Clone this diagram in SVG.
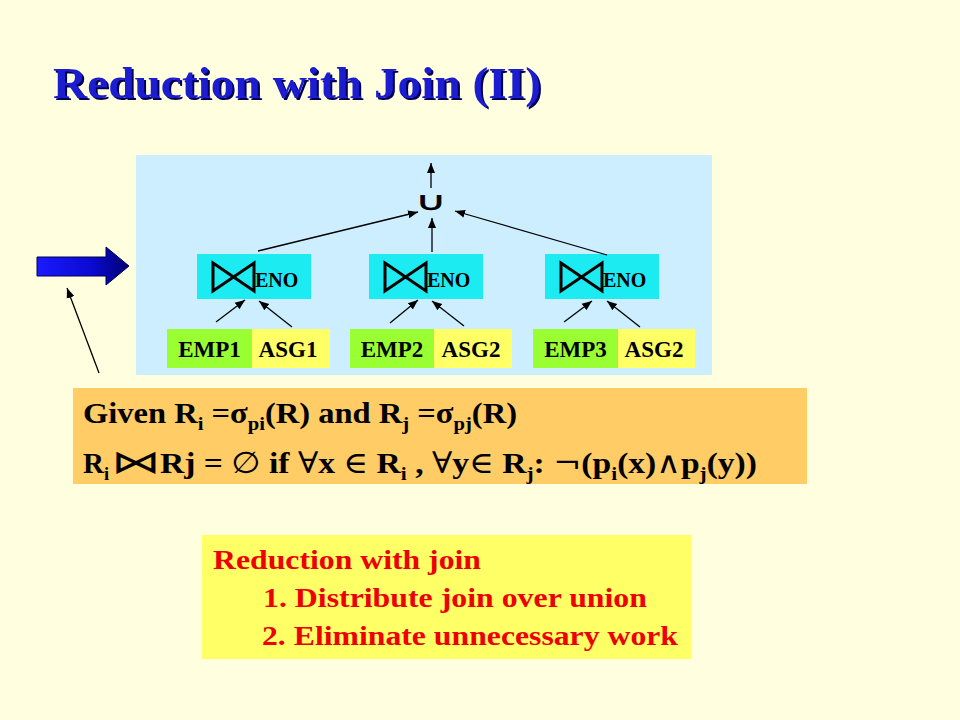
<svg xmlns="http://www.w3.org/2000/svg" width="960" height="720" viewBox="0 0 960 720">
<defs>
<marker id="ah" markerUnits="userSpaceOnUse" markerWidth="10" markerHeight="10" viewBox="0 0 10 10" refX="10" refY="5" orient="auto">
<path d="M0,1 L10,5 L0,9 Z" fill="#000"/>
</marker>
<linearGradient id="bg" x1="0" y1="0" x2="1" y2="0">
<stop offset="0" stop-color="#1a1aff"/>
<stop offset="0.6" stop-color="#0a0ad0"/>
<stop offset="1" stop-color="#000070"/>
</linearGradient>
<filter id="sh" x="-5%" y="-20%" width="110%" height="140%">
<feOffset in="SourceAlpha" dx="2" dy="2" result="o"/>
<feFlood flood-color="#000050"/>
<feComposite in2="o" operator="in" result="s"/>
<feMerge><feMergeNode in="s"/><feMergeNode in="SourceGraphic"/></feMerge>
</filter>
<style>
.ser{font-family:"Liberation Serif","Times New Roman",Times,serif;font-weight:bold}
.lbl{font-family:"Liberation Serif","Times New Roman",Times,serif;font-weight:bold;font-size:23px;fill:#000}
.eno{font-family:"Liberation Serif","Times New Roman",Times,serif;font-weight:bold;font-size:20px;fill:#000}
.bow{fill:none;stroke:#000;stroke-width:3;stroke-linejoin:miter}
.join{fill:#1cebf2}
.emp{fill:#99ff33}
.asg{fill:#ffff66}
.cn{stroke:#000;stroke-width:1.3;fill:none;marker-end:url(#ah)}
.sub{font-size:19px}
.sym{font-family:"DejaVu Serif","DejaVu Sans",serif;font-weight:normal}
.red{fill:#ee0000;font-family:"Liberation Serif","Times New Roman",Times,serif;font-weight:bold;font-size:28px}
</style>
</defs>
<rect width="960" height="720" fill="#ffffe0"/>

<g id="title">
<text x="53" y="98" class="ser" font-size="45" fill="#1a1ad0" filter="url(#sh)" textLength="488" lengthAdjust="spacingAndGlyphs">Reduction with Join (II)</text>
</g>

<g id="bigArrow">
<path d="M37,257 L106,257 L106,247 L129,266 L106,285 L106,276 L37,276 Z" fill="url(#bg)" stroke="#000050" stroke-width="1"/>
</g>

<rect id="panel" x="136" y="155" width="576" height="220" fill="#cceeff"/>

<g id="union">
<text transform="translate(431,210) scale(1.5,0.9)" x="0" y="0" text-anchor="middle" font-family="DejaVu Sans,sans-serif" font-size="28" fill="#000" stroke="#000" stroke-width="0.7">∪</text>
</g>

<g id="join1">
<rect class="join" x="197" y="254" width="114" height="45"/>
<path class="bow" d="M213,263 L254,291 L254,263 L213,291 Z"/>
<text class="eno" x="255" y="287">ENO</text>
</g>
<g id="join2">
<rect class="join" x="369" y="254" width="114" height="45"/>
<path class="bow" d="M385,263 L426,291 L426,263 L385,291 Z"/>
<text class="eno" x="427" y="287">ENO</text>
</g>
<g id="join3">
<rect class="join" x="545" y="254" width="114" height="45"/>
<path class="bow" d="M561,263 L602,291 L602,263 L561,291 Z"/>
<text class="eno" x="603" y="287">ENO</text>
</g>

<g id="emp1"><rect class="emp" x="167" y="329" width="85" height="39"/><text class="lbl" x="209.5" y="357" text-anchor="middle">EMP1</text></g>
<g id="asg1"><rect class="asg" x="252" y="329" width="78" height="39"/><text class="lbl" x="288" y="357" text-anchor="middle">ASG1</text></g>
<g id="emp2"><rect class="emp" x="350" y="329" width="84" height="39"/><text class="lbl" x="392" y="357" text-anchor="middle">EMP2</text></g>
<g id="asg2a"><rect class="asg" x="434" y="329" width="78" height="39"/><text class="lbl" x="471" y="357" text-anchor="middle">ASG2</text></g>
<g id="emp3"><rect class="emp" x="533" y="329" width="85" height="39"/><text class="lbl" x="575.5" y="357" text-anchor="middle">EMP3</text></g>
<g id="asg2b"><rect class="asg" x="618" y="329" width="77" height="39"/><text class="lbl" x="654" y="357" text-anchor="middle">ASG2</text></g>

<g id="connectors">
<line class="cn" x1="431" y1="188" x2="431" y2="163"/>
<line class="cn" x1="258" y1="251" x2="418" y2="212"/>
<line class="cn" x1="432" y1="252" x2="432" y2="218"/>
<line class="cn" x1="607" y1="255" x2="455" y2="211"/>
<line class="cn" x1="216" y1="322" x2="245" y2="300"/>
<line class="cn" x1="292" y1="327" x2="259" y2="301"/>
<line class="cn" x1="390" y1="323" x2="418" y2="300"/>
<line class="cn" x1="464" y1="326" x2="432" y2="301"/>
<line class="cn" x1="564" y1="322" x2="592" y2="301"/>
<line class="cn" x1="640" y1="327" x2="607" y2="301"/>
<line class="cn" x1="99" y1="373" x2="67" y2="288"/>
</g>

<g id="given">
<rect x="73" y="388" width="734" height="96" fill="#ffcc66"/>
<text class="ser" font-size="30" fill="#000" x="83" y="423" textLength="434" lengthAdjust="spacingAndGlyphs">Given R<tspan class="sub" dy="7">i</tspan><tspan dy="-7"> =σ</tspan><tspan class="sub" dy="7">pi</tspan><tspan dy="-7">(R) and R</tspan><tspan class="sub" dy="7">j</tspan><tspan dy="-7"> =σ</tspan><tspan class="sub" dy="7">pj</tspan><tspan dy="-7">(R)</tspan></text>
<text class="ser" font-size="30" fill="#000" x="83" y="473" textLength="26" lengthAdjust="spacingAndGlyphs">R<tspan class="sub" dy="7">i</tspan></text>
<text transform="translate(136,473) scale(1.9,1.25)" x="0" y="0" text-anchor="middle" font-family="DejaVu Sans,sans-serif" font-size="26" fill="#000">⋈</text>
<text class="ser" font-size="30" fill="#000" x="160" y="473" textLength="597" lengthAdjust="spacingAndGlyphs">Rj = <tspan class="sym">∅</tspan> if <tspan class="sym">∀</tspan>x <tspan class="sym">∈</tspan> R<tspan class="sub" dy="7">i</tspan><tspan dy="-7"> , </tspan><tspan class="sym">∀</tspan>y<tspan class="sym">∈</tspan> R<tspan class="sub" dy="7">j</tspan><tspan dy="-7">: </tspan><tspan class="sym">¬</tspan>(p<tspan class="sub" dy="7">i</tspan><tspan dy="-7">(x)</tspan><tspan class="sym">∧</tspan>p<tspan class="sub" dy="7">j</tspan><tspan dy="-7">(y))</tspan></text>
</g>

<g id="reduction">
<rect x="202" y="535" width="489" height="124" fill="#ffff66"/>
<text class="red" x="213" y="569" textLength="268" lengthAdjust="spacingAndGlyphs">Reduction with join</text>
<text class="red" x="263" y="607" textLength="384" lengthAdjust="spacingAndGlyphs">1. Distribute join over union</text>
<text class="red" x="262" y="645" textLength="416" lengthAdjust="spacingAndGlyphs">2. Eliminate unnecessary work</text>
</g>
</svg>
